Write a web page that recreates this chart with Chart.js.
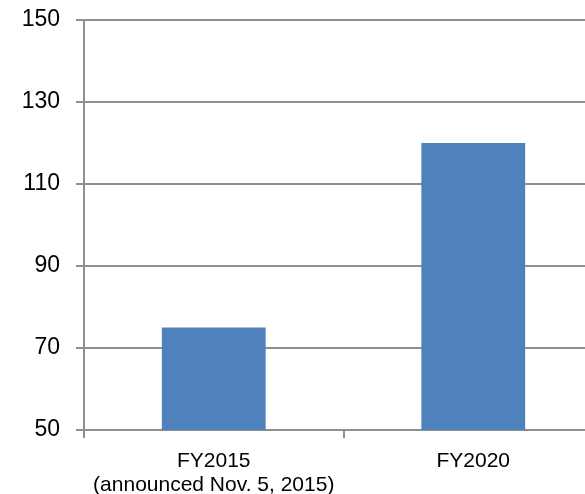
<!DOCTYPE html>
<html>
<head>
<meta charset="utf-8">
<script src="https://cdn.jsdelivr.net/npm/chart.js@4/dist/chart.umd.min.js"></script>
<style>
  html, body { margin: 0; padding: 0; overflow: hidden; background: #fff; }
  canvas { display: block; }
</style>
</head>
<body>
<canvas id="chart" width="605" height="494"></canvas>
<script>
// data
const categories = [['FY2015', '(announced Nov. 5, 2015)'], 'FY2020'];
const values = [75, 120];
const yMin = 50;
const yMax = 150;
const yStep = 20;

const gridColor = '#8f8f8f';

new Chart(document.getElementById('chart').getContext('2d'), {
  type: 'bar',
  data: {
    labels: categories,
    datasets: [{
      data: values,
      backgroundColor: '#4f81bd',
      categoryPercentage: 1,
      barPercentage: 0.4
    }]
  },
  options: {
    responsive: false,
    animation: false,
    layout: { padding: { top: 20, right: 2, left: 0, bottom: 0 } },
    plugins: {
      legend: { display: false },
      tooltip: { enabled: false }
    },
    scales: {
      x: {
        grid: {
          drawOnChartArea: false,
          drawTicks: true,
          tickLength: 8,
          color: gridColor,
          lineWidth: 2
        },
        border: { color: gridColor, width: 2 },
        ticks: {
          color: '#000',
          padding: 11,
          maxRotation: 0,
          font: { family: 'Liberation Sans, Arial, sans-serif', size: 21, lineHeight: 1.15 }
        },
        afterFit: (scale) => { scale.height = 64; }
      },
      y: {
        min: yMin,
        max: yMax,
        grid: {
          color: gridColor,
          lineWidth: 2,
          tickLength: 8
        },
        border: { color: gridColor, width: 2 },
        ticks: {
          stepSize: yStep,
          color: '#000',
          padding: 16,
          font: { family: 'Liberation Sans, Arial, sans-serif', size: 23 }
        },
        afterFit: (scale) => {
          scale.width = 84;
          scale.paddingTop = 0;
          scale.paddingBottom = 0;
        }
      }
    }
  }
});
</script>
</body>
</html>
